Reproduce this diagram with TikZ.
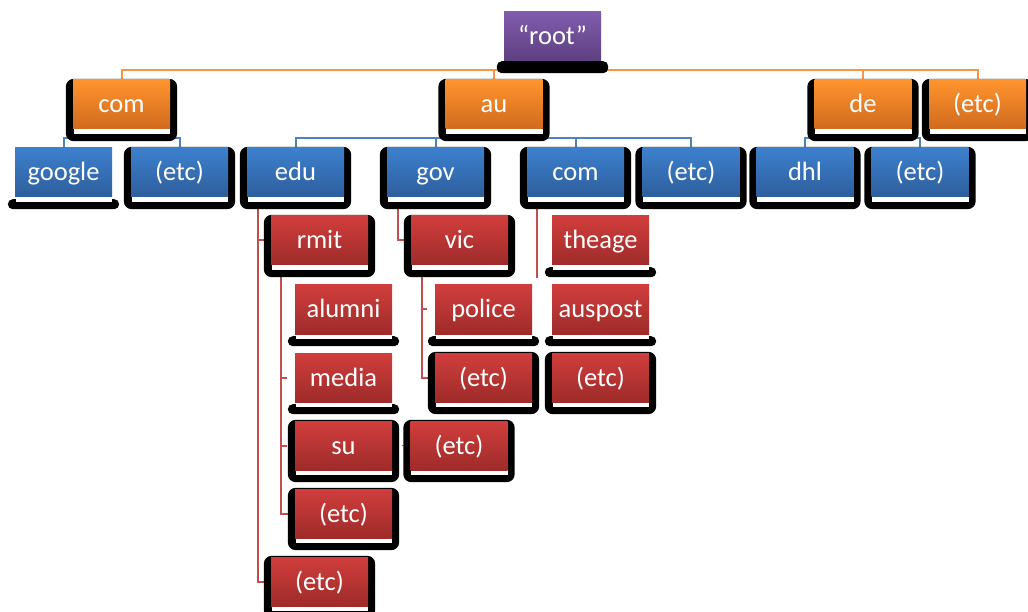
\documentclass[tikz,border=0pt]{standalone}
\usepackage{fontspec}
\setmainfont{Carlito}
\pgfdeclarelayer{bg}
\pgfdeclarelayer{conn}
\pgfdeclarelayer{shadow}
\pgfsetlayers{bg,conn,shadow,main}
\definecolor{orT}{RGB}{255,148,46}
\definecolor{orB}{RGB}{208,106,30}
\definecolor{blT}{RGB}{60,128,205}
\definecolor{blB}{RGB}{46,94,156}
\definecolor{rdT}{RGB}{208,62,60}
\definecolor{rdB}{RGB}{158,43,42}
\definecolor{puT}{RGB}{128,92,173}
\definecolor{puB}{RGB}{94,64,128}
\definecolor{oline}{RGB}{247,150,70}
\definecolor{bline}{RGB}{79,129,189}
\definecolor{rline}{RGB}{192,80,77}
\tikzset{
  box/.style={rectangle, minimum width=97pt, minimum height=49pt, inner sep=0pt,
    text=white, text height=18pt, text depth=1pt, font=\fontsize{26.5}{30}\selectfont},
  obox/.style={box, top color=orT, bottom color=orB},
  bbox/.style={box, top color=blT, bottom color=blB},
  rbox/.style={box, top color=rdT, bottom color=rdB},
  pbox/.style={box, top color=puT, bottom color=puB},
  ocon/.style={draw=oline, line width=2pt},
  bcon/.style={draw=bline, line width=2pt},
  rcon/.style={draw=rline, line width=2pt},
}
\begin{document}
\begin{tikzpicture}[x=1pt,y=-1pt]
\useasboundingbox (0,0) rectangle (1028,612);
\begin{pgfonlayer}{bg}
\fill[white] (0,0) rectangle (1028,612);
\end{pgfonlayer}
% nodes
\node[pbox] (root) at (552.5,36.5) {“root”};
\node[obox] (com) at (121.5,104.5) {com};
\node[obox] (au) at (494,104.5) {au};
\node[obox] (de) at (863,104.5) {de};
\node[obox] (etcO) at (977.5,104.5) {(etc)};
\node[bbox] (google) at (63.5,172.5) {google};
\node[bbox] (etcA) at (179.5,172.5) {(etc)};
\node[bbox] (edu) at (295.5,172.5) {edu};
\node[bbox] (gov) at (435.5,172.5) {gov};
\node[bbox] (comA) at (575.5,172.5) {com};
\node[bbox] (etcB) at (691,172.5) {(etc)};
\node[bbox] (dhl) at (805,172.5) {dhl};
\node[bbox] (etcD) at (920,172.5) {(etc)};
\node[rbox] (rmit) at (319.5,240.5) {rmit};
\node[rbox] (vic) at (459.5,240.5) {vic};
\node[rbox] (theage) at (600.5,240.5) {theage};
\node[rbox] (alumni) at (343.5,309.5) {alumni};
\node[rbox] (police) at (483.5,309.5) {police};
\node[rbox] (auspost) at (600.5,309.5) {auspost};
\node[rbox] (media) at (343.5,377.5) {media};
\node[rbox] (etcV) at (483.5,377.5) {(etc)};
\node[rbox] (etcC) at (600.5,377.5) {(etc)};
\node[rbox] (su) at (343.5,445.5) {su};
\node[rbox] (etcG) at (459,445.5) {(etc)};
\node[rbox] (etcR) at (343.5,513.5) {(etc)};
\node[rbox] (etcE) at (319.5,581.5) {(etc)};
% shadows
\begin{pgfonlayer}{shadow}
\foreach \n in {com,au,de,etcO,etcA,edu,gov,comA,etcB,dhl,etcD,rmit,vic,etcV,etcC,su,etcG,etcR,etcE}{
  \fill[black,rounded corners=8pt] ([shift={(-7,-1)}]\n.north west) rectangle ([shift={(7,12)}]\n.south east);
  \fill[white] ([shift={(1,0)}]\n.south west) rectangle ([shift={(0,5)}]\n.south east);
}
\foreach \n in {google,theage,alumni,police,auspost,media}{
  \fill[black,rounded corners=5pt] ([shift={(-7,2)}]\n.south west) rectangle ([shift={(7,12)}]\n.south east);
  \fill[white] ([shift={(1,0)}]\n.south west) rectangle ([shift={(0,5)}]\n.south east);
}
\fill[black,rounded corners=5pt] ([shift={(-7,0)}]root.south west) rectangle ([shift={(7,12)}]root.south east);
\end{pgfonlayer}
% connectors
\begin{pgfonlayer}{conn}
\coordinate (oy) at (0,70);
\coordinate (by) at (0,138);
\draw[ocon] (root.south) -- (root.south |- oy);
\draw[ocon] (com.north) -- (com.north |- oy) -- (etcO.north |- oy) -- (etcO.north);
\draw[ocon] (au.north) -- (au.north |- oy);
\draw[ocon] (de.north) -- (de.north |- oy);
\draw[bcon] (com.south) -- (com.south |- by);
\draw[bcon] (google.north) -- (google.north |- by) -- (etcA.north |- by) -- (etcA.north);
\draw[bcon] (au.south) -- (au.south |- by);
\draw[bcon] (edu.north) -- (edu.north |- by) -- (etcB.north |- by) -- (etcB.north);
\draw[bcon] (gov.north) -- (gov.north |- by);
\draw[bcon] (comA.north) -- (comA.north |- by);
\draw[bcon] (de.south) -- (de.south |- by);
\draw[bcon] (dhl.north) -- (dhl.north |- by) -- (etcD.north |- by) -- (etcD.north);
% edu
\coordinate (eduL) at ([xshift=11pt]edu.south west);
\draw[rcon] (eduL) |- (etcE.west);
\draw[rcon] (eduL) |- (rmit.west);
% rmit
\coordinate (rmitL) at ([xshift=10pt]rmit.south west);
\draw[rcon] (rmitL) |- (etcR.west);
\draw[rcon] (rmitL) |- ([xshift=-8pt]media.west);
\draw[rcon] (rmitL) |- ([xshift=-8pt]su.west);
% gov
\coordinate (govL) at ([xshift=11pt]gov.south west);
\draw[rcon] (govL) |- (vic.west);
\coordinate (govT) at ([xshift=-8pt]etcG.west);
\draw[rcon, line width=1.5pt] (govT) -- ++(3,0);
% vic
\coordinate (vicL) at ([xshift=11pt]vic.south west);
\draw[rcon] (vicL) |- (etcV.west);
\draw[rcon] (vicL) |- ([xshift=-8pt]police.west);
% com (au)
\coordinate (comL) at ([xshift=10pt]comA.south west);
\draw[rcon] (comL) -- ++(0,81);
\end{pgfonlayer}
\end{tikzpicture}
\end{document}
